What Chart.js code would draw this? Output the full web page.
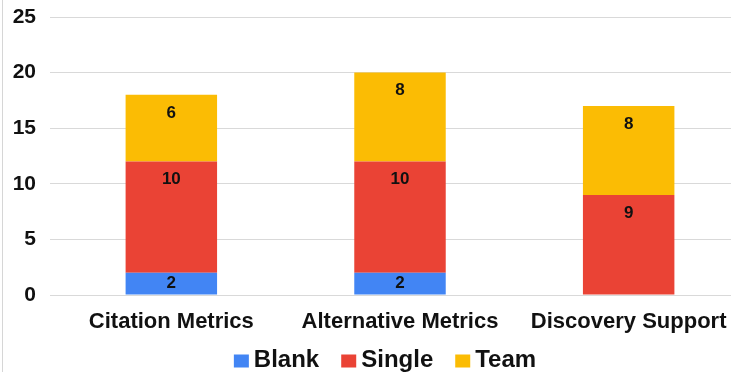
<!DOCTYPE html>
<html>
<head>
<meta charset="utf-8">
<script src="https://cdn.jsdelivr.net/npm/chart.js@4/dist/chart.umd.min.js"></script>
<style>
  html, body { margin: 0; padding: 0; background: #fff; overflow: hidden; }
  #wrap { position: relative; width: 731px; height: 372px; overflow: hidden; }
  #frame { position: absolute; left: 2px; top: 0; width: 1px; height: 372px; background: #d6d6d6; }
  #chart { position: absolute; left: 0; top: 0; }
</style>
</head>
<body>
<div id="wrap">
  <canvas id="chart" width="770" height="372"></canvas>
  <div id="frame"></div>
</div>
<script>
// categorias y valores por tipo de autoria
const categorias = ['Citation Metrics', 'Alternative Metrics', 'Discovery Support'];
const blank = [2, 2, 0];
const single = [10, 10, 9];
const team = [6, 8, 8];
const yTicks = [0, 5, 10, 15, 20, 25];

const fuente = '"Liberation Sans", Arial, sans-serif';

// pinta el valor de cada tramo cerca de su parte alta
const etiquetas = {
    id: 'etiquetas',
    afterDatasetsDraw(chart) {
        const ctx = chart.ctx;
        ctx.save();
        ctx.font = 'bold 17px ' + fuente;
        ctx.fillStyle = '#111';
        ctx.textAlign = 'center';
        ctx.textBaseline = 'middle';
        chart.data.datasets.forEach(function (ds, i) {
            let meta = chart.getDatasetMeta(i);
            meta.data.forEach(function (bar, j) {
                let v = ds.data[j];
                if (!v) return;
                let top = Math.min(bar.y, bar.base);
                let bottom = Math.max(bar.y, bar.base);
                let y = Math.min(top + 18, (top + bottom) / 2);
                ctx.fillText(String(v), bar.x, y);
            });
        });
        ctx.restore();
    }
};

// leyenda propia: cuadrado pegado al texto, centrada abajo
const leyenda = {
    id: 'leyenda',
    afterDraw(chart) {
        const ctx = chart.ctx;
        const caja = 15, altoCaja = 13, hueco = 5, separacion = 22;
        ctx.save();
        ctx.font = 'bold 24px ' + fuente;
        ctx.textBaseline = 'middle';
        ctx.textAlign = 'left';
        let items = chart.data.datasets.map(ds => ({
            texto: ds.label,
            color: ds.backgroundColor,
            ancho: ctx.measureText(ds.label).width
        }));
        let total = items.reduce((s, it) => s + caja + hueco + it.ancho, 0) + separacion * (items.length - 1);
        let x = chart.width / 2 - total / 2;
        let y = chart.height - 12;
        items.forEach(function (it) {
            ctx.fillStyle = it.color;
            ctx.fillRect(x, y - altoCaja / 2 + 1, caja, altoCaja);
            x += caja + hueco;
            ctx.fillStyle = '#111';
            ctx.fillText(it.texto, x, y);
            x += it.ancho + separacion;
        });
        ctx.restore();
    }
};

function serie(label, data, color) {
    return {
        label: label,
        data: data,
        backgroundColor: color,
        borderWidth: 0,
        barPercentage: 0.4,
        categoryPercentage: 1
    };
}

var ctx = document.getElementById('chart');

var grafica = new Chart(ctx, {
    type: 'bar',
    data: {
        labels: categorias,
        datasets: [
            serie('Blank', blank, '#4285f4'),
            serie('Single', single, '#ea4335'),
            serie('Team', team, '#fbbc04')
        ]
    },
    options: {
        responsive: false,
        animation: false,
        layout: { padding: { top: 0, left: 0, right: 0, bottom: 35 } },
        plugins: {
            tooltip: { enabled: false },
            legend: { display: false }
        },
        scales: {
            x: {
                stacked: true,
                afterFit: function (s) { s.height = 42; },
                grid: { display: false, drawTicks: false },
                border: { display: false },
                ticks: {
                    color: '#111',
                    padding: 14,
                    font: { family: fuente, size: 22, weight: 'bold' }
                }
            },
            y: {
                stacked: true,
                min: 0,
                max: 25,
                afterFit: function (s) {
                    s.width = 57;
                    s.paddingTop = 17;
                    s.paddingBottom = 0;
                },
                afterBuildTicks: function (s) { s.ticks = yTicks.map(v => ({ value: v })); },
                grid: { color: '#d9d9d9', tickLength: 7 },
                border: { display: false },
                ticks: {
                    color: '#111',
                    padding: 14,
                    font: { family: fuente, size: 21, weight: 'bold' }
                }
            },
            derecha: {
                position: 'right',
                afterFit: function (s) { s.width = 27; },
                grid: { display: false },
                border: { display: false },
                ticks: { display: false }
            }
        }
    },
    plugins: [etiquetas, leyenda]
});
</script>
</body>
</html>
